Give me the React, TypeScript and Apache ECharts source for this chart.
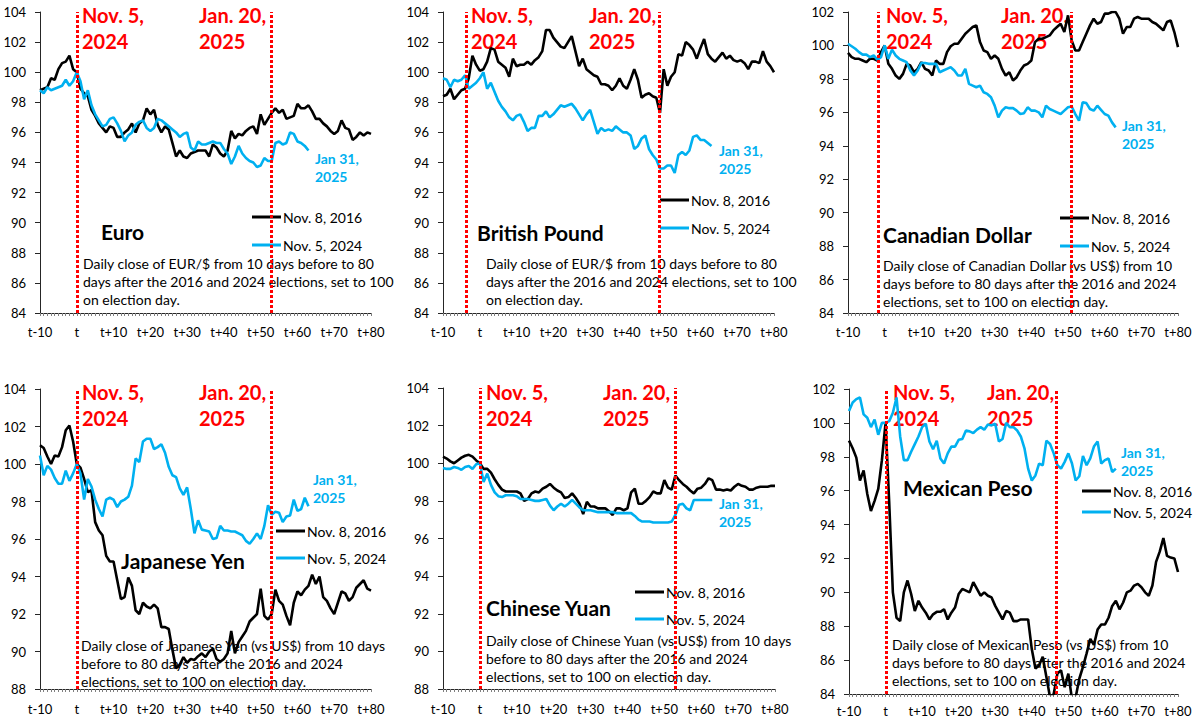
import React, { useEffect, useRef } from "react";
import * as echarts from "echarts";

// ---------- DATA ----------
const DAYS = Array.from({ length: 91 }, (_, i) => i - 10); // t-10 .. t+80
const X_MIN = -10;
const X_MAX = 80;
const SERIES_2016 = "Nov. 8, 2016";
const SERIES_2024 = "Nov. 5, 2024";
const PANEL_NAMES = ["Euro", "British Pound", "Canadian Dollar", "Japanese Yen", "Chinese Yuan", "Mexican Peso"];
const Y_MIN = [84, 84, 84, 88, 88, 84];
const Y_MAX = [104, 104, 102, 104, 104, 102];
const NOV5_LINE = [0.2, -3.6, -1.7, 0.1, 0.2, 0.2];
const JAN20_LINE = [52.8, 48.8, 51.0, 53.0, 53.0, 46.6];
const DESCRIPTIONS = [
  "Daily close of EUR/$ from 10 days before to 80\ndays after the 2016 and 2024 elections, set to 100\non election day.",
  "Daily close of EUR/$ from 10 days before to 80\ndays after the 2016 and 2024 elections, set to 100\non election day.",
  "Daily close of Canadian Dollar (vs US$) from 10\ndays before to 80 days after the 2016 and 2024\nelections, set to 100 on election day.",
  "Daily close of Japanese Yen (vs US$) from 10 days\nbefore to 80 days after the 2016 and 2024\nelections, set to 100 on election day.",
  "Daily close of Chinese Yuan (vs US$) from 10 days\nbefore to 80 days after the 2016 and 2024\nelections, set to 100 on election day.",
  "Daily close of Mexican Peso (vs US$) from 10\ndays before to 80 days after the 2016 and 2024\nelections, set to 100 on election day.",
];
const NOV_LABEL = "Nov. 5,\n2024";
const JAN_LABEL = "Jan. 20,\n2025";
const END_LABEL = "Jan 31,\n2025";

const EUR_2016 = [
  98.8, 98.9, 99.0, 99.6, 99.5, 100.2, 100.6, 100.7, 101.1, 100.2,
  100.0, 98.9, 98.6, 98.4, 97.5, 97.1, 96.6, 96.3, 96.0, 96.4,
  96.3, 95.7, 95.7, 96.0, 96.2, 96.6, 96.0, 96.6, 96.8, 97.6,
  97.2, 97.5, 96.5, 96.0, 96.4, 96.2, 95.3, 94.4, 94.8, 94.4,
  94.3, 94.6, 94.7, 94.8, 94.8, 94.8, 94.4, 95.2, 95.0, 94.6,
  94.4, 94.8, 96.1, 95.6, 95.9, 95.8, 96.1, 96.3, 96.4, 95.9,
  97.2, 96.5, 96.9, 97.3, 97.6, 97.3, 97.5, 96.9, 97.0, 97.1,
  97.9, 97.6, 97.6, 97.8, 97.4, 96.9, 96.9, 96.6, 96.4, 96.1,
  95.9, 96.1, 96.8, 96.3, 96.2, 95.5, 95.7, 96.0, 95.8, 96.0,
  95.9,
];
const EUR_2024 = [
  98.8, 98.6, 99.0, 98.8, 98.9, 99.0, 99.1, 99.5, 99.1, 99.4,
  100.0, 99.4, 98.2, 98.8, 97.8, 97.2, 96.8, 96.4, 96.5, 96.9,
  97.0, 96.6, 96.1, 95.4, 95.8, 96.0, 96.5, 96.7, 96.8, 96.3,
  96.1, 96.3, 96.9, 96.8, 96.6, 96.4, 96.2, 96.0, 95.7, 95.9,
  96.0, 95.0, 94.8, 95.4, 95.2, 95.2, 95.3, 95.4, 95.3, 95.3,
  94.9, 94.6, 93.9, 94.4, 95.1, 94.6, 94.3, 94.1, 94.0, 93.7,
  93.8, 94.3, 94.1, 94.1, 95.3, 95.4, 95.2, 95.3, 96.0, 95.9,
  95.4, 95.3, 95.1, 94.8,
];
const GBP_2016 = [
  98.4, 98.5, 98.9, 98.2, 98.5, 98.8, 98.9, 99.6, 101.1, 100.5,
  100.1, 100.2, 100.7, 101.6, 101.5, 100.7, 100.5, 100.3, 99.7, 100.9,
  100.4, 100.5, 100.5, 100.7, 100.5, 100.8, 101.0, 101.4, 102.8, 102.8,
  102.3, 102.0, 101.7, 101.6, 102.0, 102.4, 101.4, 100.4, 100.9, 100.2,
  100.0, 99.8, 99.7, 99.2, 99.2, 99.1, 98.8, 99.1, 99.6, 99.1,
  98.9, 99.5, 100.2, 99.5, 98.3, 98.5, 98.6, 98.4, 98.3, 97.3,
  100.2, 99.1, 99.7, 100.0, 101.2, 101.1, 102.0, 101.8, 101.5, 100.9,
  101.6, 102.2, 101.2, 100.9, 100.7, 101.0, 101.3, 100.9, 101.1, 100.8,
  100.7, 100.8, 100.6, 100.2, 100.7, 100.7, 100.6, 101.4, 100.7, 100.4,
  100.0,
];
const GBP_2024 = [
  99.6, 99.5, 99.0, 99.5, 99.4, 99.5, 99.8, 98.9, 99.1, 99.3,
  99.6, 100.0, 98.9, 99.3, 98.7, 98.1, 97.7, 97.4, 97.0, 96.8,
  97.1, 97.2, 96.7, 96.1, 96.3, 96.3, 97.1, 97.1, 97.4, 97.0,
  97.2, 97.5, 97.8, 97.7, 97.8, 97.9, 97.6, 97.2, 96.8, 97.2,
  97.5, 96.7, 95.9, 96.3, 96.1, 96.2, 96.1, 96.4, 96.2, 96.0,
  96.0, 95.8, 94.9, 95.1, 95.6, 95.8, 94.9, 94.5, 94.2, 93.6,
  93.6, 93.8, 93.8, 93.3, 94.5, 94.7, 94.5, 94.8, 95.7, 95.8,
  95.5, 95.5, 95.3, 95.1,
];
const CAD_2016 = [
  99.55, 99.3, 99.2, 99.2, 99.1, 99.0, 99.2, 99.2, 99.1, 99.6,
  100.0, 98.9, 98.6, 98.2, 98.0, 98.3, 98.9, 98.8, 98.4, 98.6,
  99.0, 98.6, 98.5, 98.2, 99.1, 98.9, 98.9, 99.6, 99.95, 100.1,
  100.1, 100.4, 100.7, 100.9, 101.1, 101.2, 100.2, 99.7, 99.6, 99.2,
  99.4, 99.2, 98.6, 98.2, 98.4, 97.9, 98.1, 98.5, 98.8, 98.9,
  99.1, 100.2, 100.4, 100.4, 100.5, 100.6, 100.9, 101.1, 101.3, 100.8,
  101.8, 100.3, 99.7, 99.7, 100.2, 100.7, 101.2, 101.6, 101.3, 101.4,
  101.9, 101.9, 102.0, 102.0, 101.6, 100.7, 101.1, 101.1, 101.6, 101.7,
  101.6, 101.6, 101.6, 101.4, 101.3, 101.1, 100.9, 101.4, 101.5, 100.8,
  99.9,
];
const CAD_2024 = [
  100.1, 99.95, 99.8, 99.6, 99.45, 99.45, 99.3, 99.4, 99.15, 99.3,
  100.0, 99.2, 99.75, 99.4, 99.2, 99.1, 99.0, 98.5, 98.2, 98.5,
  98.95, 98.95, 98.9, 98.9, 98.9, 98.4, 98.5, 98.6, 98.7, 98.5,
  98.2, 98.2, 98.6, 97.7, 97.6, 97.5, 97.6, 97.2, 97.1, 96.9,
  96.4, 95.7, 96.1, 96.3, 96.25, 96.25, 96.1, 95.9, 95.95, 96.3,
  96.1, 96.1, 96.0, 95.7, 96.4, 96.2, 96.1, 96.0, 95.9, 96.1,
  96.3, 96.35, 95.9, 95.5, 96.6, 96.55, 96.2, 96.1, 96.4, 96.15,
  95.9, 95.8, 95.4, 95.1,
];
const JPY_2016 = [
  101.0, 100.85, 100.4, 100.0, 100.45, 100.4, 100.9, 101.8, 102.05, 101.2,
  100.0, 99.8, 99.2, 98.5, 98.6, 96.9, 96.45, 96.2, 95.1, 94.8,
  94.8, 93.8, 92.8, 92.9, 93.95, 93.5, 92.2, 92.0, 92.6, 92.4,
  92.3, 92.5, 92.3, 91.3, 91.3, 91.2, 90.1, 89.1, 89.3, 89.7,
  89.4, 89.6, 89.55, 89.75, 89.9, 89.7, 90.0, 90.15, 89.6, 89.45,
  89.6, 89.9, 91.1, 89.9, 90.5, 90.8, 91.1, 91.6, 91.8, 92.0,
  93.35, 91.9, 91.7, 92.0, 93.3, 92.7, 92.5, 91.9, 91.4, 92.6,
  93.2, 93.0, 93.3, 93.5, 94.1, 93.6, 94.0, 92.9, 92.7, 92.3,
  92.0, 92.6, 93.2, 93.1, 92.7, 92.9, 93.4, 93.6, 93.8, 93.35,
  93.25,
];
const JPY_2024 = [
  100.45, 99.4, 99.9, 99.7, 99.25, 98.95, 98.95, 99.65, 99.1, 99.5,
  100.0, 99.5, 98.1, 99.2, 98.8, 98.1, 97.6, 97.2, 98.1, 98.2,
  98.1, 97.7, 98.0, 98.1, 98.25, 98.85, 100.3, 100.1, 101.2, 101.35,
  101.35, 100.8, 100.9, 101.05, 100.6, 99.85, 99.4, 99.3, 98.7, 98.35,
  98.75, 97.6, 96.3, 97.0, 96.5, 96.45, 96.4, 96.0, 96.05, 96.7,
  96.45, 96.45, 96.4, 96.4, 96.3, 96.2, 95.9, 95.75, 96.0, 96.3,
  96.0, 96.7, 97.8, 97.3, 97.45, 97.4, 96.9, 97.2, 97.25, 98.1,
  97.5, 97.6, 98.2, 97.75,
];
const CNY_2016 = [
  100.35, 100.25, 100.1, 100.0, 100.15, 100.3, 100.4, 100.45, 100.35, 100.15,
  100.0, 99.7, 99.7, 99.5, 99.15, 98.85, 98.6, 98.5, 98.5, 98.5,
  98.5, 98.4, 98.0, 98.1, 98.4, 98.5, 98.45, 98.65, 98.75, 98.9,
  98.7, 98.55, 98.45, 98.15, 98.2, 98.4, 98.15, 97.85, 97.3, 97.95,
  97.7, 97.7, 97.6, 97.6, 97.6, 97.45, 97.25, 97.6, 97.6, 97.5,
  97.6, 98.45, 98.65, 97.85, 97.85, 98.0, 98.2, 98.5, 98.4, 98.4,
  99.1, 98.7, 98.6, 99.35, 99.1, 98.9, 98.75, 98.55, 98.4, 98.65,
  98.7, 98.9, 99.2, 99.1, 98.6, 98.6, 98.55, 98.6, 98.55, 98.75,
  98.9, 98.8, 98.75, 98.6, 98.6, 98.7, 98.75, 98.75, 98.75, 98.8,
  98.8,
];
const CNY_2024 = [
  99.75, 99.7, 99.7, 99.8, 99.75, 99.65, 99.8, 99.85, 99.7, 99.95,
  100.0, 99.0, 99.45, 98.85, 98.45, 98.25, 98.2, 98.3, 98.3, 98.3,
  98.25, 98.1, 98.1, 98.1, 98.05, 98.0, 98.0, 98.05, 98.1, 97.75,
  97.5, 97.7, 97.85, 97.7, 97.85, 98.05, 97.85, 97.65, 97.5, 97.5,
  97.5, 97.45, 97.4, 97.4, 97.4, 97.4, 97.4, 97.35, 97.35, 97.35,
  97.35, 97.35, 97.2, 97.0, 96.9, 96.9, 96.9, 96.85, 96.85, 96.85,
  96.85, 96.85, 96.9, 97.25, 97.8, 97.85, 97.6, 97.5, 98.05, 98.05,
  98.05, 98.05, 98.05, 98.05,
];
const MXN_2016 = [
  98.95, 98.5, 97.95, 96.6, 97.2, 95.8, 94.8, 95.4, 96.1, 97.8,
  100.0, 95.3, 90.0, 88.5, 88.3, 90.0, 90.7, 89.9, 88.9, 89.5,
  89.1, 88.8, 88.4, 88.7, 88.85, 88.85, 89.0, 88.4, 88.8, 89.1,
  89.9, 90.2, 90.1, 90.0, 90.6, 90.2, 89.8, 90.0, 89.8, 89.7,
  89.2, 88.8, 88.4, 88.9, 88.8, 88.3, 88.3, 88.4, 88.4, 88.4,
  86.65, 85.5, 85.7, 86.2, 85.0, 83.8, 84.0, 85.2, 85.4, 84.4,
  85.2, 83.7, 83.8, 84.9, 85.6, 86.4, 87.25, 86.9, 87.8, 88.1,
  88.1, 88.5, 89.2, 89.5, 89.0, 89.4, 90.0, 90.1, 90.4, 90.5,
  90.3, 90.0, 89.8, 90.4, 91.8, 92.4, 93.2, 92.15, 92.05, 92.0,
  91.2,
];
const MXN_2024 = [
  100.7, 101.2, 101.4, 101.5, 100.5, 100.3, 99.75, 100.2, 99.3, 100.0,
  100.0, 100.1, 100.6, 101.5, 99.2, 97.8, 97.8, 98.3, 98.75, 99.2,
  99.75, 99.95, 98.9, 98.45, 98.95, 97.9, 97.6, 98.2, 98.6, 98.6,
  99.0, 99.05, 99.55, 99.5, 99.4, 99.6, 99.75, 99.6, 99.9, 99.85,
  99.95, 98.9, 99.05, 100.0, 99.75, 99.75, 99.55, 99.2, 98.5, 97.3,
  96.6, 96.9, 97.6, 97.5, 98.95, 98.75, 98.2, 97.5, 97.3, 97.7,
  98.2, 97.6, 96.6, 96.85, 98.05, 97.5, 97.9, 98.6, 98.9, 97.6,
  97.8, 97.9, 97.1, 97.3,
];
const DATA_2016 = [EUR_2016, GBP_2016, CAD_2016, JPY_2016, CNY_2016, MXN_2016];
const DATA_2024 = [EUR_2024, GBP_2024, CAD_2024, JPY_2024, CNY_2024, MXN_2024];

// ---------- LAYOUT / STYLE ----------
const FONT = 'Lato, "Noto Sans", sans-serif';
const BLACK = "#000000";
const CYAN = "#00B0F0";
const RED = "#FF0000";

const GRIDS = [
  { left: 40, top: 12, width: 331, height: 301 },
  { left: 443, top: 12, width: 331, height: 301 },
  { left: 848, top: 12, width: 330, height: 301 },
  { left: 40, top: 389, width: 331, height: 300 },
  { left: 443, top: 388, width: 332, height: 301 },
  { left: 849, top: 389, width: 329, height: 305 },
];
const X_LABEL_MARGIN = [12, 12, 12, 13, 13, 10];
const LEGEND_POS = [
  { left: 252, top: 210, gap: 14 },
  { left: 660, top: 193, gap: 14 },
  { left: 1060, top: 211, gap: 14 },
  { left: 276, top: 524, gap: 13 },
  { left: 635, top: 585, gap: 13 },
  { left: 1082, top: 484, gap: 7 },
];
const NOV_POS = [[82, 2], [471, 2], [886, 2], [82, 379], [486, 379], [893, 379]];
const JAN_POS = [[199, 2], [589, 2], [1001, 2], [199, 379], [603, 379], [987, 379]];
const NAME_POS = [[101, 221], [477, 222], [883, 224], [121, 550], [486, 597], [903, 477]];
const DESC_POS = [[83, 254], [486, 254], [883, 256], [81, 636], [486, 631], [892, 635]];
const END_POS = [[315, 150], [719, 142], [1122, 117], [313, 471], [719, 495], [1121, 444]];

const xLabel = (v: number) => (v === 0 ? "t" : v < 0 ? `t${v}` : `t+${v}`);

function buildOption() {
  const grid = GRIDS.map((g) => ({ ...g, containLabel: false }));
  const xAxis = GRIDS.map((_, i) => ({
    gridIndex: i,
    type: "value",
    min: X_MIN,
    max: X_MAX,
    interval: 10,
    axisLine: { show: true, onZero: false, lineStyle: { color: "#262626", width: 1 } },
    axisTick: { show: true, length: 3, lineStyle: { color: "#7f7f7f" } },
    minorTick: { show: true, splitNumber: 10, length: 3, lineStyle: { color: "#7f7f7f" } },
    axisLabel: {
      margin: X_LABEL_MARGIN[i],
      fontSize: 13,
      fontFamily: FONT,
      color: "#000",
      formatter: xLabel,
    },
    splitLine: { show: false },
    minorSplitLine: { show: false },
  }));
  const yAxis = GRIDS.map((_, i) => ({
    gridIndex: i,
    type: "value",
    min: Y_MIN[i],
    max: Y_MAX[i],
    interval: 2,
    axisLine: { show: true, onZero: false, lineStyle: { color: "#262626", width: 1 } },
    axisTick: { show: true, length: 5, lineStyle: { color: "#262626" } },
    axisLabel: { margin: 14, fontSize: 13, fontFamily: FONT, color: "#000" },
    splitLine: { show: false },
  }));
  const series: any[] = [];
  GRIDS.forEach((_, i) => {
    series.push({
      type: "line",
      name: SERIES_2016,
      xAxisIndex: i,
      yAxisIndex: i,
      data: DATA_2016[i].map((v, j) => [DAYS[j], v]),
      showSymbol: false,
      symbol: "none",
      clip: true,
      z: 3,
      lineStyle: { color: BLACK, width: 2.6 },
      itemStyle: { color: BLACK },
      emphasis: { disabled: true },
    });
    series.push({
      type: "line",
      name: SERIES_2024,
      xAxisIndex: i,
      yAxisIndex: i,
      data: DATA_2024[i].map((v, j) => [DAYS[j], v]),
      showSymbol: false,
      symbol: "none",
      clip: true,
      z: 4,
      lineStyle: { color: CYAN, width: 2.6 },
      itemStyle: { color: CYAN },
      emphasis: { disabled: true },
      markLine: {
        silent: true,
        symbol: ["none", "none"],
        label: { show: false },
        lineStyle: { color: RED, width: 3, type: [3, 2] },
        emphasis: { disabled: true },
        data: [{ xAxis: NOV5_LINE[i] }, { xAxis: JAN20_LINE[i] }],
      },
    });
  });
  const legend = LEGEND_POS.map((p) => ({
    data: [SERIES_2016, SERIES_2024],
    orient: "vertical",
    left: p.left,
    top: p.top,
    padding: 0,
    itemGap: p.gap,
    itemWidth: 29,
    itemHeight: 3,
    icon: "rect",
    selectedMode: false,
    textStyle: { fontSize: 14, fontFamily: FONT, color: "#000", lineHeight: 14, padding: [0, 0, 0, -3] },
  }));
  const graphic: any[] = [];
  GRIDS.forEach((_, i) => {
    graphic.push({
      type: "text",
      left: NOV_POS[i][0],
      top: NOV_POS[i][1],
      z: 1,
      style: { text: NOV_LABEL, fill: RED, fontSize: 20, fontWeight: "bold", fontFamily: FONT, lineHeight: 26 },
    });
    graphic.push({
      type: "text",
      left: JAN_POS[i][0],
      top: JAN_POS[i][1],
      z: 1,
      style: { text: JAN_LABEL, fill: RED, fontSize: 20, fontWeight: "bold", fontFamily: FONT, lineHeight: 26 },
    });
    graphic.push({
      type: "text",
      left: NAME_POS[i][0],
      top: NAME_POS[i][1],
      z: 1,
      style: { text: PANEL_NAMES[i], fill: "#000", fontSize: 21, fontWeight: "bold", fontFamily: FONT, lineHeight: 21 },
    });
    graphic.push({
      type: "text",
      left: DESC_POS[i][0],
      top: DESC_POS[i][1],
      z: 1,
      style: { text: DESCRIPTIONS[i], fill: "#000", fontSize: 14, fontFamily: FONT, lineHeight: 18.3 },
    });
    graphic.push({
      type: "text",
      left: END_POS[i][0],
      top: END_POS[i][1],
      z: 1,
      style: { text: END_LABEL, fill: CYAN, fontSize: 14, fontWeight: "bold", fontFamily: FONT, lineHeight: 17.5 },
    });
  });
  return {
    animation: false,
    backgroundColor: "#ffffff",
    textStyle: { fontFamily: FONT },
    grid,
    xAxis,
    yAxis,
    series,
    legend,
    graphic,
  };
}

export default function App() {
  const ref = useRef<HTMLDivElement>(null);
  useEffect(() => {
    if (!ref.current) return;
    const chart = echarts.init(ref.current, null, { renderer: "svg" });
    chart.setOption(buildOption() as any);
    return () => chart.dispose();
  }, []);
  return (
    <div
      ref={ref}
      style={{ position: "fixed", left: 0, top: 0, width: 1200, height: 724, background: "#fff" }}
    />
  );
}
